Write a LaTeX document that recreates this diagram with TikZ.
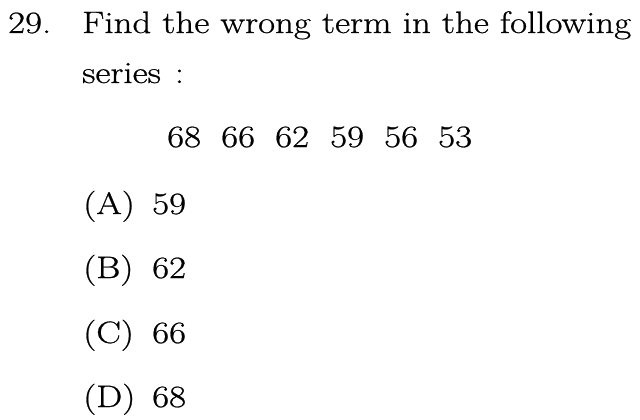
\documentclass[tikz,border=0pt]{standalone}
\usepackage{fontspec}
\setmainfont{Latin Modern Roman}[FakeStretch=1.19, FakeBold=0.7]
\usepackage{tikz}
\usetikzlibrary{positioning}
\tikzset{qtext/.style={anchor=base west, inner sep=0pt, font=\fontsize{31}{36}\selectfont}}
\newcommand{\qnode}[3]{\node [qtext] (#1) at (#2) {#3}}

\begin{document}
\begin{tikzpicture}[x=1pt,y=-1pt]
\useasboundingbox (0,0) rectangle (640,420);

\qnode{NUM}{8,33}{29.};
\qnode{STEM}{82,33}{Find the wrong term in the following};
\qnode{STEM2}{82,83}{series\hspace{0.45em}:};

\qnode{S1}{167,147}{68};
\qnode{S2}{221,147}{66};
\qnode{S3}{275,147}{62};
\qnode{S4}{330,147}{59};
\qnode{S5}{384,147}{56};
\qnode{S6}{438,147}{53};

\qnode{OPTA}{83,214}{(A)};
\qnode{VALA}{152,214}{59};
\qnode{OPTB}{83,278}{(B)};
\qnode{VALB}{152,278}{62};
\qnode{OPTC}{83,343}{(C)};
\qnode{VALC}{152,343}{66};
\qnode{OPTD}{83,407}{(D)};
\qnode{VALD}{152,407}{68};

\end{tikzpicture}
\end{document}
